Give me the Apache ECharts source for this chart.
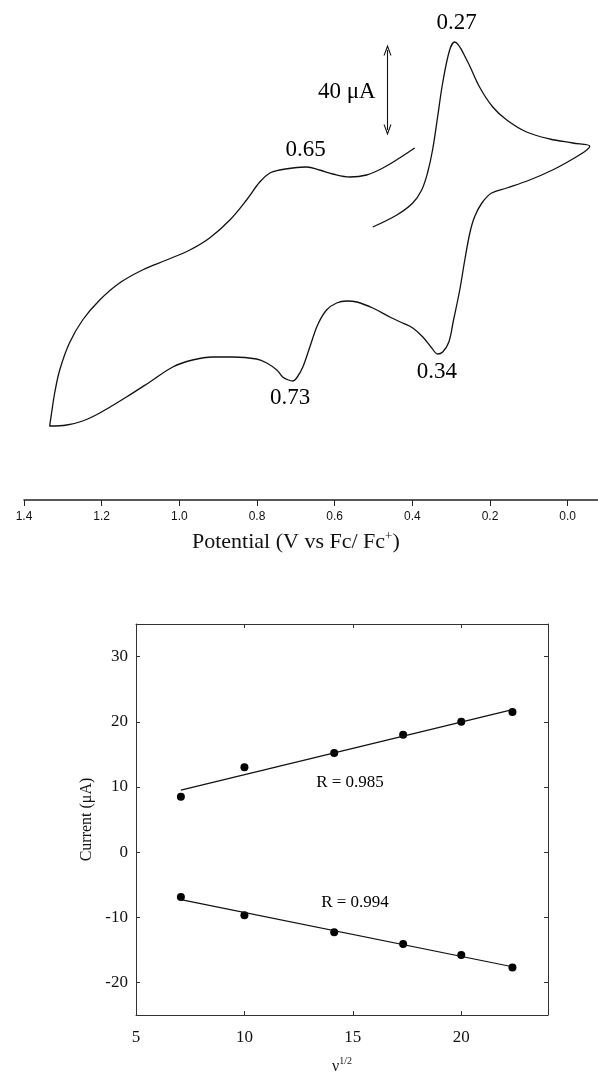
<!DOCTYPE html>
<html>
<head>
<meta charset="utf-8">
<script src="https://cdn.jsdelivr.net/npm/echarts@6/dist/echarts.min.js"></script>
<style>
html,body{margin:0;padding:0;background:#fff;}
#chart{width:598px;height:1073px;}
</style>
</head>
<body>
<div id="chart"></div>
<script>
// ---- Cyclic voltammogram (time-ordered trace), potential in V vs Fc/Fc+, current in µA ----
const cvPotential = [
  0.502,0.440,0.399,0.376,0.361,0.348,0.335,0.322,0.304,0.291,0.260,0.227,0.193,0.157,0.106,0.046,-0.013,-0.057,
  -0.049,-0.013,0.039,0.098,0.157,0.196,0.221,0.240,0.252,0.265,0.278,0.294,0.306,0.322,0.335,0.350,0.373,0.399,
  0.425,0.458,0.502,0.543,0.569,0.595,0.621,0.644,0.664,0.682,0.698,0.708,0.719,0.734,0.749,0.775,0.801,0.863,
  0.914,0.966,1.017,1.076,1.136,1.205,1.249,1.290,1.334,
  1.329,1.321,1.308,1.283,1.249,1.205,1.154,1.095,1.033,0.973,0.922,0.870,0.827,0.793,0.767,0.742,0.708,0.672,
  0.639,0.605,0.561,0.518,0.476,0.433,0.394
];
const cvCurrent = [
  11.5,17.5,23.5,30,38.5,50,66.5,83.5,100,104,95,81.5,71.5,65,59,55.5,53.5,52,
  50,45.5,40,35,31,28.5,23.5,16.5,8.5,-5,-20,-35,-46,-51,-52,-49,-43.5,-39,
  -36.5,-33.5,-29,-26,-25.5,-26.5,-30,-37.5,-48.5,-58.5,-64,-65.5,-65,-63.5,-60,-56.5,-54.5,-53.5,
  -53.5,-55,-58.5,-66,-73.5,-81.5,-85.5,-87.5,-88,
  -81.5,-71.5,-60,-46.5,-35,-25,-16.5,-10,-5,0,6,15,25,34,38.5,40,41,41.5,
  40,38,36.5,37.5,41,46,51
];
const cvTicks = [0.0, 0.2, 0.4, 0.6, 0.8, 1.0, 1.2, 1.4];
// peak annotations: [potential, current, text]
const peakLabels = [
  [0.286, 113.5, '0.27'],
  [0.675, 50, '0.65'],
  [0.715, -74, '0.73'],
  [0.337, -61, '0.34'],
  [0.569, 79, '40 μA']
];
// scale bar: potential position, current from, current to (40 µA)
const scaleBarE = 0.464;
const scaleBarRange = [60, 100];

// ---- Peak current vs square root of scan rate ----
const sqrtScanRate = [7.07, 10, 14.14, 17.32, 20, 22.36];
const anodicCurrent = [8.5, 13.0, 15.2, 18.0, 20.0, 21.5];
const cathodicCurrent = [-6.9, -9.7, -12.3, -14.1, -15.8, -17.7];
const anodicFit = [[7.07, 9.5], [22.36, 21.85]];
const cathodicFit = [[7.07, -7.3], [22.36, -17.6]];
const rLabels = [[14.87, 10.66, 'R = 0.985'], [15.1, -7.75, 'R = 0.994']];
const xTickValues = [5, 10, 15, 20];
const yTickValues = [-20, -10, 0, 10, 20, 30];

const serif = 'Liberation Serif';
const sans = 'Liberation Sans';
const chart = echarts.init(document.getElementById('chart'));

const frameAxisLine = {show: true, lineStyle: {color: '#333', width: 1}};
const innerTick = {show: true, inside: true, length: 4, lineStyle: {color: '#333'}};
const plainText = {textBorderWidth: 0, textShadowBlur: 0};

chart.setOption({
  backgroundColor: '#fff',
  animation: false,
  grid: [
    {left: 24, top: 0, height: 500, right: 0, outerBoundsMode: 'none', containLabel: false},
    {left: 136, top: 624, width: 412, height: 391, outerBoundsMode: 'none', containLabel: false}
  ],
  xAxis: [
    {
      gridIndex: 0, type: 'value', inverse: true, min: -0.078, max: 1.4,
      position: 'bottom',
      axisLine: {show: true, onZero: false, lineStyle: {color: '#222', width: 1.5}},
      axisTick: {show: true, inside: false, length: 6, customValues: cvTicks, lineStyle: {color: '#222', width: 1}},
      axisLabel: {customValues: cvTicks, color: '#111', fontFamily: sans, fontSize: 12, margin: 11,
        formatter: v => Math.abs(v).toFixed(1)},
      splitLine: {show: false}
    },
    {
      gridIndex: 1, type: 'value', min: 5, max: 24, position: 'bottom',
      axisLine: Object.assign({onZero: false}, frameAxisLine),
      axisTick: Object.assign({customValues: xTickValues}, innerTick),
      axisLabel: {customValues: xTickValues, color: '#111', fontFamily: serif, fontSize: 17, margin: 14},
      splitLine: {show: false},
      name: '{a|ν}{s|1/2}', nameLocation: 'middle', nameGap: 41,
      nameTextStyle: {rich: {
        a: {fontFamily: serif, fontSize: 16, color: '#111'},
        s: {fontFamily: serif, fontSize: 10, color: '#111', padding: [0, 0, 12, 0]}
      }}
    },
    {
      gridIndex: 1, type: 'value', min: 5, max: 24, position: 'top',
      axisLine: Object.assign({onZero: false}, frameAxisLine),
      axisTick: Object.assign({customValues: xTickValues}, innerTick),
      axisLabel: {show: false},
      splitLine: {show: false}
    }
  ],
  yAxis: [
    {gridIndex: 0, type: 'value', min: -125, max: 125, show: false, splitLine: {show: false}},
    {
      gridIndex: 1, type: 'value', min: -25, max: 35, position: 'left',
      axisLine: Object.assign({onZero: false}, frameAxisLine),
      axisTick: Object.assign({customValues: yTickValues}, innerTick),
      axisLabel: {customValues: yTickValues, color: '#111', fontFamily: serif, fontSize: 17, margin: 8},
      splitLine: {show: false},
      name: 'Current (μA)', nameLocation: 'middle', nameGap: 40,
      nameTextStyle: {fontFamily: serif, fontSize: 16, color: '#111'}
    },
    {
      gridIndex: 1, type: 'value', min: -25, max: 35, position: 'right',
      axisLine: Object.assign({onZero: false}, frameAxisLine),
      axisTick: Object.assign({customValues: yTickValues}, innerTick),
      axisLabel: {show: false},
      splitLine: {show: false}
    }
  ],
  graphic: [
    {
      type: 'text', left: 317 - 125, top: 530,
      style: {
        text: '{t|Potential (V vs Fc/ Fc}{s|+}{t|)}',
        rich: {
          t: {fontFamily: serif, fontSize: 22, fill: '#111'},
          s: {fontFamily: serif, fontSize: 13, fill: '#111', padding: [0, 0, 12, 0]}
        }
      }
    }
  ],
  series: [
    {
      type: 'line', name: 'CV', xAxisIndex: 0, yAxisIndex: 0,
      data: cvPotential.map((e, i) => [e, cvCurrent[i]]),
      smooth: 0.35, showSymbol: false, symbol: 'none',
      lineStyle: {color: '#111', width: 1.3}, clip: false, silent: true,
      markLine: {
        silent: true, symbol: ['path://M0,10 L5,0 L10,10 L8.6,10 L5,3 L1.4,10 Z', 'path://M0,10 L5,0 L10,10 L8.6,10 L5,3 L1.4,10 Z'],
        symbolSize: [8, 11],
        label: {show: false},
        lineStyle: {color: '#111', width: 1.1, type: 'solid'},
        data: [[{coord: [scaleBarE, scaleBarRange[0]]}, {coord: [scaleBarE, scaleBarRange[1]]}]]
      }
    },
    {
      type: 'scatter', xAxisIndex: 0, yAxisIndex: 0, symbolSize: 0, silent: true,
      itemStyle: {opacity: 1},
      data: peakLabels,
      label: Object.assign({show: true, position: 'inside', formatter: p => p.data[2],
        fontFamily: serif, fontSize: 23, color: '#000', opacity: 1}, plainText)
    },
    {
      type: 'line', xAxisIndex: 1, yAxisIndex: 1, data: anodicFit, symbol: 'none',
      lineStyle: {color: '#111', width: 1.2}, silent: true
    },
    {
      type: 'line', xAxisIndex: 1, yAxisIndex: 1, data: cathodicFit, symbol: 'none',
      lineStyle: {color: '#111', width: 1.2}, silent: true
    },
    {
      type: 'scatter', xAxisIndex: 1, yAxisIndex: 1, symbolSize: 8,
      itemStyle: {color: '#000', opacity: 1},
      data: sqrtScanRate.map((x, i) => [x, anodicCurrent[i]])
    },
    {
      type: 'scatter', xAxisIndex: 1, yAxisIndex: 1, symbolSize: 8,
      itemStyle: {color: '#000', opacity: 1},
      data: sqrtScanRate.map((x, i) => [x, cathodicCurrent[i]])
    },
    {
      type: 'scatter', xAxisIndex: 1, yAxisIndex: 1, symbolSize: 0, silent: true,
      itemStyle: {opacity: 1},
      data: rLabels,
      label: Object.assign({show: true, position: 'inside', formatter: p => p.data[2],
        fontFamily: serif, fontSize: 17, color: '#000', opacity: 1}, plainText)
    }
  ]
});
</script>
</body>
</html>
